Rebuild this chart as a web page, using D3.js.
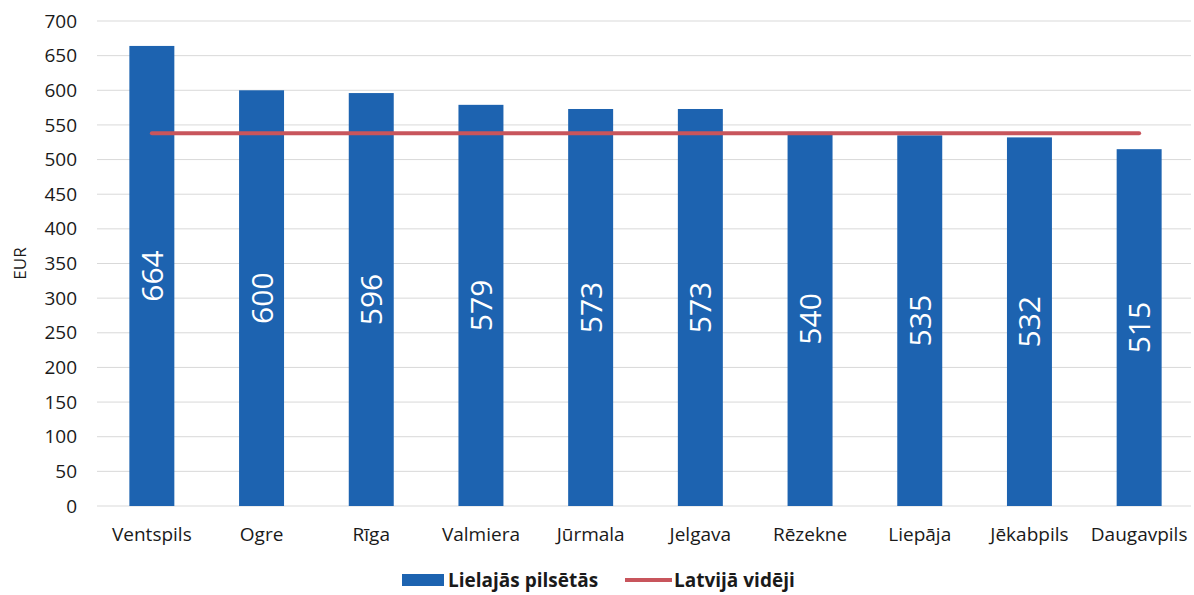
<!DOCTYPE html>
<html><head><meta charset="utf-8">
<script src="https://cdn.jsdelivr.net/npm/d3@7"></script>
<style>body{margin:0;background:#fff}svg{display:block}text{font-family:"Open Sans",sans-serif}</style>
</head><body><svg id="c" width="1194" height="595"></svg>
<script>
const categories = ["Ventspils","Ogre","Rīga","Valmiera","Jūrmala","Jelgava","Rēzekne","Liepāja","Jēkabpils","Daugavpils"];
const cityValues = [664,600,596,579,573,573,540,535,532,515];
const latviaAverage = [538,538,538,538,538,538,538,538,538,538];
const yTicks = [0,50,100,150,200,250,300,350,400,450,500,550,600,650,700];
const seriesNames = ["Lielajās pilsētās","Latvijā vidēji"];

const svg = d3.select("#c");
const m = {l:97, r:0, t:21, b:89};
const W = 1194, H = 595;
const x = d3.scaleBand().domain(categories).range([m.l, W-m.r]).paddingInner(0.59).paddingOuter(0.295);
const y = d3.scaleLinear().domain([0,700]).range([H-m.b, m.t]);
const blue = "#1d63b0", red = "#c8555c", ink = "#1a1a1a";

// grid
svg.append("g").selectAll("line").data(yTicks).join("line")
  .attr("x1", m.l).attr("x2", W-3).attr("y1", d=>y(d)).attr("y2", d=>y(d))
  .attr("stroke","#d9d9d9").attr("stroke-width",1);

// y axis
const ya = svg.append("g").attr("transform",`translate(${m.l},0)`)
  .call(d3.axisLeft(y).tickValues(yTicks).tickSize(0).tickPadding(20));
ya.select(".domain").remove();
ya.selectAll("text").attr("font-size",19).attr("fill",ink).style("font-family","Open Sans");

svg.append("text").attr("transform",`translate(26,${(y(0)+y(700))/2}) rotate(-90)`)
  .attr("text-anchor","middle").attr("font-size",17).attr("fill",ink).text("EUR");

// bars
svg.append("g").selectAll("rect").data(categories).join("rect")
  .attr("x", d=>x(d)).attr("width", x.bandwidth())
  .attr("y", (d,i)=>y(cityValues[i])).attr("height",(d,i)=>y(0)-y(cityValues[i]))
  .attr("fill", blue);

// labels
svg.append("g").selectAll("text").data(categories).join("text")
  .attr("transform",(d,i)=>`translate(${x(d)+x.bandwidth()/2+11},${y(cityValues[i]/2)}) rotate(-90)`)
  .attr("text-anchor","middle").attr("font-size",30).attr("fill","#fff").text((d,i)=>cityValues[i]);

// line
const line = d3.line().x((d,i)=>x(categories[i])+x.bandwidth()/2).y(d=>y(d));
svg.append("path").datum(latviaAverage).attr("d",line).attr("fill","none")
  .attr("stroke",red).attr("stroke-width",4).attr("stroke-linecap","round");

// x axis
const xa = svg.append("g").attr("transform",`translate(0,${y(0)})`)
  .call(d3.axisBottom(x).tickSize(0).tickPadding(22));
xa.select(".domain").remove();
xa.selectAll("text").attr("font-size",19).attr("fill",ink).style("font-family","Open Sans");

// legend
const lg = svg.append("g").attr("transform","translate(0,580)");
lg.append("rect").attr("x",402).attr("y",-6).attr("width",42).attr("height",12).attr("fill",blue);
lg.append("text").attr("x",448).attr("y",7).attr("font-size",19).attr("font-weight","bold").attr("fill",ink).text(seriesNames[0]);
lg.append("line").attr("x1",625).attr("x2",672).attr("y1",0).attr("y2",0).attr("stroke",red).attr("stroke-width",4);
lg.append("text").attr("x",674).attr("y",7).attr("font-size",19).attr("font-weight","bold").attr("fill",ink).text(seriesNames[1]);
</script></body></html>
